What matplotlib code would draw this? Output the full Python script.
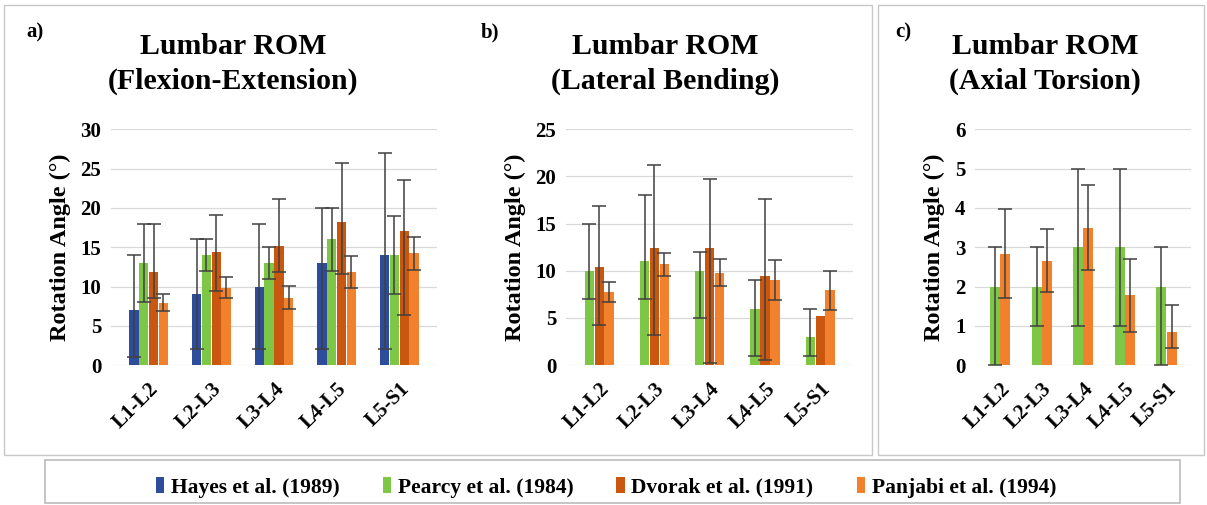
import numpy as np
import matplotlib
matplotlib.use("Agg")
import matplotlib.pyplot as plt
from matplotlib.patches import Rectangle

plt.rcParams['font.family'] = ['Liberation Serif', 'DejaVu Serif']
plt.rcParams['font.weight'] = 'bold'

levels = ['L1-L2', 'L2-L3', 'L3-L4', 'L4-L5', 'L5-S1']
series_names = ['Hayes et al. (1989)', 'Pearcy et al. (1984)', 'Dvorak et al. (1991)', 'Panjabi et al. (1994)']
colors = ['#2E4C9C', '#7DC646', '#C9570F', '#F2812E']

# a) flexion-extension: mean, lower and upper end of the error bar
hayes_fe = [7, 9, 10, 13, 14]
hayes_fe_lo = [1, 2, 2, 2, 2]
hayes_fe_hi = [14, 16, 18, 20, 27]
pearcy_fe = [13, 14, 13, 16, 14]
pearcy_fe_lo = [8, 12, 11, 12, 9]
pearcy_fe_hi = [18, 16, 15, 20, 19]
dvorak_fe = [11.8, 14.4, 15.2, 18.2, 17.0]
dvorak_fe_lo = [8.6, 9.4, 11.9, 11.6, 6.4]
dvorak_fe_hi = [18, 19.1, 21.1, 25.7, 23.6]
panjabi_fe = [7.9, 9.8, 8.6, 11.8, 14.2]
panjabi_fe_lo = [6.9, 8.5, 7.1, 9.8, 12.1]
panjabi_fe_hi = [9.1, 11.2, 10.1, 13.9, 16.3]

# b) lateral bending
pearcy_lb = [10, 11, 10, 6, 3]
pearcy_lb_lo = [7, 7, 5, 1, 1]
pearcy_lb_hi = [15, 18, 12, 9, 6]
dvorak_lb = [10.4, 12.4, 12.4, 9.4, 5.2]
dvorak_lb_lo = [4.3, 3.2, 0.2, 0.5, np.nan]
dvorak_lb_hi = [16.9, 21.2, 19.7, 17.6, np.nan]
panjabi_lb = [7.7, 10.7, 9.8, 9.0, 8.0]
panjabi_lb_lo = [6.7, 9.4, 8.4, 6.9, 5.8]
panjabi_lb_hi = [8.8, 11.9, 11.3, 11.1, 10.0]

# c) axial torsion
pearcy_at = [2, 2, 3, 3, 2]
pearcy_at_lo = [0, 1, 1, 1, 0]
pearcy_at_hi = [3, 3, 5, 5, 3]
panjabi_at = [2.83, 2.65, 3.5, 1.79, 0.85]
panjabi_at_lo = [1.7, 1.86, 2.43, 0.85, 0.43]
panjabi_at_hi = [3.97, 3.46, 4.57, 2.71, 1.53]


def draw_bars(ax, data, width, step):
    x = np.arange(len(levels))
    n = len(data)
    handles = []
    for i, (vals, lo, hi, c) in enumerate(data):
        vals = np.array(vals, float)
        lo = np.array(lo, float)
        hi = np.array(hi, float)
        pos = x + (i - (n - 1) / 2) * step
        h = ax.bar(pos, vals, width, color=c, zorder=2)
        handles.append(h)
        ok = ~np.isnan(lo)
        ax.errorbar(pos[ok], vals[ok], yerr=[vals[ok] - lo[ok], hi[ok] - vals[ok]],
                    fmt='none', ecolor='#404040', elinewidth=1.1, capsize=5, capthick=1.1, zorder=3)
    ax.set_xticks(x)
    ax.set_xticklabels(levels, rotation=45, ha='right', va='top', rotation_mode='anchor', fontsize=15.5)
    ax.set_xlim(-0.6, 4.6)
    for s in ax.spines.values():
        s.set_visible(False)
    ax.tick_params(length=0, labelsize=15, pad=7)
    ax.tick_params(axis='x', pad=10)
    ax.yaxis.grid(True, color='#D9D9D9', lw=0.9, zorder=0)
    ax.set_ylabel('Rotation Angle (°)', fontsize=17.5, fontweight='bold', labelpad=7)
    return handles


fig = plt.figure(figsize=(12.07, 5.05), dpi=100)

ax_a = fig.add_axes([0.092, 0.277, 0.270, 0.467])
ax_b = fig.add_axes([0.469, 0.277, 0.238, 0.467])
ax_c = fig.add_axes([0.808, 0.277, 0.179, 0.467])

hs = draw_bars(ax_a, [(hayes_fe, hayes_fe_lo, hayes_fe_hi, colors[0]),
                      (pearcy_fe, pearcy_fe_lo, pearcy_fe_hi, colors[1]),
                      (dvorak_fe, dvorak_fe_lo, dvorak_fe_hi, colors[2]),
                      (panjabi_fe, panjabi_fe_lo, panjabi_fe_hi, colors[3])], 0.15, 0.157)
ax_a.set_ylim(0, 30)
ax_a.set_yticks(range(0, 31, 5))

draw_bars(ax_b, [(pearcy_lb, pearcy_lb_lo, pearcy_lb_hi, colors[1]),
                 (dvorak_lb, dvorak_lb_lo, dvorak_lb_hi, colors[2]),
                 (panjabi_lb, panjabi_lb_lo, panjabi_lb_hi, colors[3])], 0.17, 0.18)
ax_b.set_ylim(0, 25)
ax_b.set_yticks(range(0, 26, 5))

draw_bars(ax_c, [(pearcy_at, pearcy_at_lo, pearcy_at_hi, colors[1]),
                 (panjabi_at, panjabi_at_lo, panjabi_at_hi, colors[3])], 0.24, 0.25)
ax_c.set_ylim(0, 6)
ax_c.set_yticks(range(0, 7))

titles = ['Lumbar ROM\n(Flexion-Extension)', 'Lumbar ROM\n(Lateral Bending)', 'Lumbar ROM\n(Axial Torsion)']
tx = [0.193, 0.551, 0.866]
for t, x in zip(titles, tx):
    fig.text(x, 0.935, t, ha='center', va='top', fontsize=21.5, linespacing=1.35)
for lab, x in zip(['a)', 'b)', 'c)'], [0.022, 0.398, 0.742]):
    fig.text(x, 0.955, lab, ha='left', va='top', fontsize=15)

# panel frames and legend box
W, H = 1207, 505
def frame(x0, y0, x1, y1, **kw):
    fig.patches.append(Rectangle((x0 / W, 1 - y1 / H), (x1 - x0) / W, (y1 - y0) / H,
                                 transform=fig.transFigure, fill=False, **kw))
frame(4, 5, 872, 455, edgecolor='#C8C8C8', lw=1)
frame(878, 5, 1204, 455, edgecolor='#C8C8C8', lw=1)
frame(45, 460, 1180, 503, edgecolor='#BBBBBB', lw=1.2, facecolor='white')

fig.legend(hs, series_names, loc='center', bbox_to_anchor=(0.502, 0.035), ncol=4,
           frameon=False, fontsize=15.5, handlelength=0.4, handleheight=0.8,
           handletextpad=0.3, columnspacing=2.0)

fig.savefig('out.png', dpi=100)
